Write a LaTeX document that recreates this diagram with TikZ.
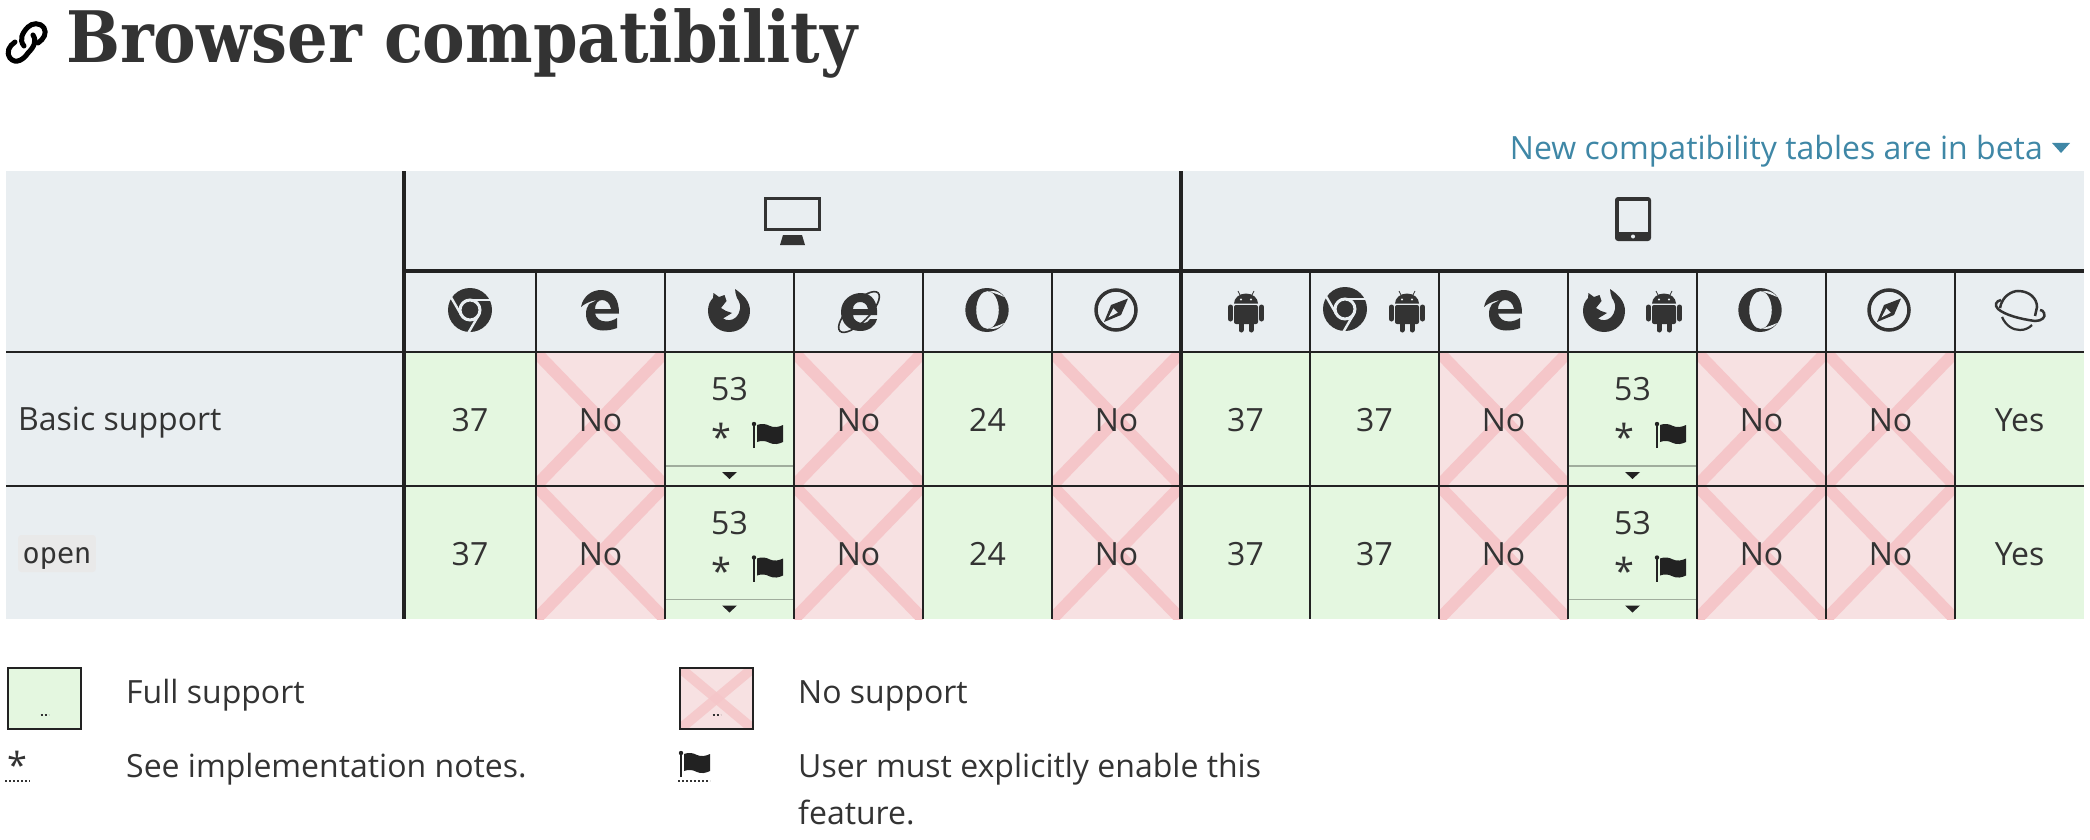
\documentclass[tikz,border=0pt]{standalone}
\usepackage{fontspec}
\setmainfont{Open Sans}
\setmonofont{DejaVu Sans Mono}
\newfontfamily\titlefont[FakeStretch=0.9]{DejaVu Serif}
\definecolor{ink}{HTML}{222222}
\definecolor{iconink}{HTML}{333333}
\definecolor{bodytext}{HTML}{333333}
\definecolor{headbg}{HTML}{E9EEF1}
\definecolor{yesfill}{HTML}{E4F7E0}
\definecolor{nofill}{HTML}{F7E1E2}
\definecolor{crossred}{HTML}{F5C6C9}
\definecolor{linkblue}{HTML}{3F87A6}
\definecolor{codebg}{HTML}{E9E9E9}
\tikzset{
  cell/.style={minimum width=129pt, minimum height=133.5pt, inner sep=0pt, outer sep=0pt, text=bodytext, text height=25.5pt, font=\fontsize{32}{38}\selectfont},
  headcell/.style={cell, fill=headbg, minimum height=81pt},
  yescell/.style={cell, fill=yesfill},
  nocell/.style={cell, fill=nofill, path picture={
    \draw[crossred, line width=12pt] (path picture bounding box.north west) -- (path picture bounding box.south east);
    \draw[crossred, line width=12pt] (path picture bounding box.north east) -- (path picture bounding box.south west);}},
  rowlabel/.style={text=bodytext, inner sep=0pt, font=\fontsize{32}{38}\selectfont},
  thickrule/.style={ink, line width=4pt},
  thinrule/.style={ink, line width=2.4pt},
  legbox/.style={draw=ink, line width=2.5pt, minimum width=73pt, minimum height=61pt, inner sep=0pt},
  dotrule/.style={bodytext, line width=2pt, dash pattern=on 2pt off 2pt}
}
\newcommand{\chromeicon}[1]{\begin{scope}[shift={(#1)}]
  \fill[iconink] (0,0) circle (22);
  \draw[headbg, line width=3pt] (0,0) circle (10);
  \draw[headbg, line width=2.4pt] (0,10) -- (22,10);
  \draw[headbg, line width=2.4pt] (8.7,-5) -- (-2.3,-24);
  \draw[headbg, line width=2.4pt] (-8.7,-5) -- (-19.7,14);
\end{scope}}
\newcommand{\edgeicon}[1]{\begin{scope}[shift={(#1)}]
  \fill[iconink, even odd rule] (-19,3) .. controls (-17,14) and (-8,20) .. (1,20) .. controls (13,20) and (19,11) .. (19,-3.5) -- (-5,-3.5) .. controls (-4,-8) and (0,-11.5) .. (6,-11.5) .. controls (10,-11.5) and (14,-10) .. (17,-8) -- (17,-18) .. controls (12,-20) and (7,-20.5) .. (3,-20.5) .. controls (-8,-20.5) and (-14,-13) .. (-14,-4) .. controls (-14,0) and (-13,3) .. (-11,6) -- (-3,10) .. controls (-10,9) and (-16,6) .. (-19,3) -- cycle
  (-5,1) -- (11,1) .. controls (10,7) and (6,10) .. (2,10) .. controls (-2,10) and (-5,6) .. (-5,1) -- cycle;
\end{scope}}
\newcommand{\foxicon}[1]{\begin{scope}[shift={(#1)}]
  \fill[iconink] (6,21) .. controls (15,15) and (21,8) .. (21,-1) .. controls (21,-13) and (12,-22) .. (0,-22) .. controls (-12,-22) and (-21,-12) .. (-21,-1) .. controls (-21,5) and (-19,9) .. (-16,12) -- (-15.5,17) -- (-10,13) -- (-4.5,15) -- (-2.5,9) -- (-8,2) -- (-3,-1) -- (3,-3) -- (-6,-8.5) .. controls (-2,-11) and (3,-10.5) .. (6,-8) .. controls (12,-3) and (13,5) .. (8,12) .. controls (7,15) and (6,18) .. (6,21) -- cycle;
\end{scope}}
\newcommand{\ieicon}[1]{\begin{scope}[shift={(#1)}]
  \fill[iconink, even odd rule] (-18,0) .. controls (-18,12) and (-8,19) .. (2,19) .. controls (13,19) and (19,10) .. (18,-3) -- (-6,-3) .. controls (-6,-8) and (-1,-11) .. (4,-11) .. controls (8,-11) and (10,-9) .. (11,-7) -- (18,-7) .. controls (16,-15) and (9,-19) .. (1,-19) .. controls (-10,-19) and (-18,-11) .. (-18,0) -- cycle
  (-6,3) -- (9,3) .. controls (8,8) and (5,10) .. (1,10) .. controls (-3,10) and (-6,7) .. (-6,3) -- cycle;
  \draw[iconink, line width=1.6pt, rotate=45] (0,0) ellipse (27 and 10);
\end{scope}}
\newcommand{\operaicon}[1]{\begin{scope}[shift={(#1)}]
  \fill[iconink, even odd rule] (0,0) ellipse (21.7 and 22) (0.5,0) ellipse (11.3 and 19);
  \fill[headbg] (2,18.5) .. controls (8,20) and (13,18) .. (17,13) .. controls (13,15) and (7,17) .. (2,18.5) -- cycle;
  \fill[headbg] (2,-18.5) .. controls (8,-20) and (13,-18) .. (17,-13) .. controls (13,-15) and (7,-17) .. (2,-18.5) -- cycle;
\end{scope}}
\newcommand{\safariicon}[1]{\begin{scope}[shift={(#1)}]
  \draw[iconink, line width=3.5pt] (0,0) circle (20);
  \fill[iconink] (12,11.5) -- (-5,5) -- (-12,-12) -- (5,-5) -- cycle;
  \fill[headbg] (-2.7,1.7) -- (1.7,-2.7) -- (-7.5,-7.5) -- cycle;
\end{scope}}
\newcommand{\androidicon}[1]{\begin{scope}[shift={(#1)}]
  \fill[iconink, rounded corners=2pt] (-12,7) rectangle (12,-12);
  \fill[iconink] (-12,8.5) arc (180:0:12 and 10) -- cycle;
  \fill[headbg] (-5,12.5) circle (1.1) (5,12.5) circle (1.1);
  \draw[iconink, line width=5pt, line cap=round] (-15.5,5) -- (-15.5,-7);
  \draw[iconink, line width=5pt, line cap=round] (15.5,5) -- (15.5,-7);
  \draw[iconink, line width=5pt, line cap=round] (-5,-12) -- (-5,-18);
  \draw[iconink, line width=5pt, line cap=round] (5,-12) -- (5,-18);
  \draw[iconink, line width=0.8pt] (-6,17) -- (-8,21);
  \draw[iconink, line width=0.8pt] (6,17) -- (8,21);
\end{scope}}
\newcommand{\planeticon}[1]{\begin{scope}[shift={(#1)}]
  \draw[iconink, line width=2.5pt] (-20,2) .. controls (-18,14) and (-8,19) .. (-2,19) .. controls (9,19) and (17,12) .. (17,3) -- (15,-6);
  \draw[iconink, line width=2.5pt] (-19,10) .. controls (-24,9) and (-26,5) .. (-22,1) .. controls (-15,-5) and (0,-9) .. (15,-11) .. controls (22,-11) and (26,-7) .. (24,-3) .. controls (23,-1) and (22,0) .. (20,0);
  \draw[iconink, line width=2.2pt] (-18,-7) .. controls (-14,-16) and (-7,-20) .. (0,-20) .. controls (5,-20) and (9,-18) .. (12,-15);
\end{scope}}
\newcommand{\flagicon}[1]{\begin{scope}[shift={(#1)}]
  \draw[ink, line width=2pt] (0,0) -- (0,24);
  \fill[ink] (0,24) circle (2.2);
  \fill[ink] (3,23) .. controls (8,25) and (12,24) .. (16,22) .. controls (20,20) and (25,21) .. (29,23) -- (29,6) .. controls (25,4) and (20,3) .. (16,5) .. controls (12,7) and (8,8) .. (3,6) -- cycle;
\end{scope}}
\newcommand{\flagbits}[1]{\begin{scope}[shift={(#1)}]
  \node[rowlabel] (#1num) at (0,29.5) {53};
  \node[rowlabel, font=\fontsize{36}{40}\selectfont] (#1star) at (-8.5,-18) {*};
  \flagicon{24.5,-29}
  \draw[black!30!yesfill, line width=1.6pt] (-64,-47) -- (64,-47);
  \fill[ink] (-7.5,-53) -- (7.5,-53) -- (0,-60) -- cycle;
\end{scope}}
\begin{document}
\begin{tikzpicture}[x=1pt, y=1pt, node distance=129pt]
\useasboundingbox (0,0) rectangle (2090,-840);

\node[inner sep=0pt, anchor=base west, text=bodytext, font=\titlefont\bfseries\fontsize{71}{75}\selectfont] (title) at (66,-63) {Browser compatibility};
\draw[black, line width=5pt, line cap=round] (24,-46) .. controls (19,-40) and (22,-33) .. (28,-27) .. controls (32,-23) and (40,-22) .. (44,-28) .. controls (47,-33) and (44,-39) .. (38,-43);
\draw[black, line width=5pt, line cap=round] (33,-35) .. controls (37,-41) and (34,-47) .. (28,-53) .. controls (24,-59) and (16,-65) .. (10,-58) .. controls (6,-52) and (9,-46) .. (15,-42);

\node[anchor=base east, inner sep=0pt, text=linkblue, font=\fontsize{32}{38}\selectfont] (beta) at (2043,-159) {New compatibility tables are in beta};
\fill[linkblue] (2052,-143) -- (2070,-143) -- (2061,-153) -- cycle;

\node[cell, fill=headbg, minimum width=398pt, minimum height=181pt] (corner) at (205,-261.5) {};
\node[cell, fill=headbg, minimum width=777pt, minimum height=100pt] (desk) at (792.5,-221) {};
\node[cell, fill=headbg, minimum width=903pt, minimum height=100pt] (mob) at (1632.5,-221) {};

\node[cell, fill=headbg, minimum width=398pt] (lb) at (205,-419) {};
\node[rowlabel, anchor=base west] (lbt) at (18,-430) {Basic support};
\node[cell, fill=headbg, minimum width=398pt] (lo) [below of=lb, node distance=133.5pt] {};
\node[rowlabel, anchor=base west, fill=codebg, rounded corners=3pt, inner xsep=4.5pt, inner ysep=0pt, text height=28pt, text depth=9pt, font=\ttfamily\fontsize{28.5}{34}\selectfont] (lot) at (18,-563) {open};

\node[headcell, minimum width=132pt] (h1) at (470,-311.5) {};
\node[headcell] (h2) [right of=h1, node distance=130.5pt] {};
\node[headcell] (h3) [right of=h2] {};
\node[headcell] (h4) [right of=h3] {};
\node[headcell] (h5) [right of=h4] {};
\node[headcell] (h6) [right of=h5] {};
\node[headcell] (h7) [right of=h6] {};
\node[headcell] (h8) [right of=h7] {};
\node[headcell] (h9) [right of=h8] {};
\node[headcell] (h10) [right of=h9] {};
\node[headcell] (h11) [right of=h10] {};
\node[headcell] (h12) [right of=h11] {};
\node[headcell] (h13) [right of=h12] {};

\node[yescell, minimum width=132pt] (b1) at (470,-419) {37};
\node[nocell] (b2) [right of=b1, node distance=130.5pt] {No};
\node[yescell] (b3) [right of=b2] {};
\node[nocell] (b4) [right of=b3] {No};
\node[yescell] (b5) [right of=b4] {24};
\node[nocell] (b6) [right of=b5] {No};
\node[yescell] (b7) [right of=b6] {37};
\node[yescell] (b8) [right of=b7] {37};
\node[nocell] (b9) [right of=b8] {No};
\node[yescell] (b10) [right of=b9] {};
\node[nocell] (b11) [right of=b10] {No};
\node[nocell] (b12) [right of=b11] {No};
\node[yescell] (b13) [right of=b12] {Yes};

\node[yescell, minimum width=132pt] (o1) at (470,-552.5) {37};
\node[nocell] (o2) [right of=o1, node distance=130.5pt] {No};
\node[yescell] (o3) [right of=o2] {};
\node[nocell] (o4) [right of=o3] {No};
\node[yescell] (o5) [right of=o4] {24};
\node[nocell] (o6) [right of=o5] {No};
\node[yescell] (o7) [right of=o6] {37};
\node[yescell] (o8) [right of=o7] {37};
\node[nocell] (o9) [right of=o8] {No};
\node[yescell] (o10) [right of=o9] {};
\node[nocell] (o11) [right of=o10] {No};
\node[nocell] (o12) [right of=o11] {No};
\node[yescell] (o13) [right of=o12] {Yes};

\flagbits{b3}
\flagbits{b10}
\flagbits{o3}
\flagbits{o10}

\draw[thinrule] (h2.north west) -- (o2.south west);
\draw[thinrule] (h3.north west) -- (o3.south west);
\draw[thinrule] (h4.north west) -- (o4.south west);
\draw[thinrule] (h5.north west) -- (o5.south west);
\draw[thinrule] (h6.north west) -- (o6.south west);
\draw[thinrule] (h8.north west) -- (o8.south west);
\draw[thinrule] (h9.north west) -- (o9.south west);
\draw[thinrule] (h10.north west) -- (o10.south west);
\draw[thinrule] (h11.north west) -- (o11.south west);
\draw[thinrule] (h12.north west) -- (o12.south west);
\draw[thinrule] (h13.north west) -- (o13.south west);
\draw[thinrule] (lb.north west) -- (b13.north east);
\draw[thinrule] (lo.north west) -- (o13.north east);
\draw[thickrule] (desk.north west) -- (o1.south west);
\draw[thickrule] (mob.north west) -- (o7.south west);
\draw[thickrule] (desk.south west) -- (mob.south east);

\draw[iconink, line width=3pt] (765.5,-198.5) rectangle (819.5,-229.5);
\fill[iconink] (783,-235) -- (802,-235) -- (805,-245) -- (780,-245) -- cycle;

\fill[iconink, rounded corners=3pt] (1615,-197) rectangle (1651,-241);
\fill[headbg] (1618.5,-201) rectangle (1647.5,-232);
\fill[headbg] (1633,-236.5) circle (2);

\chromeicon{470,-310}
\edgeicon{600,-310}
\foxicon{729,-310}
\ieicon{859,-312}
\operaicon{987,-310}
\safariicon{1116,-310}
\androidicon{1246,-312}
\chromeicon{1345,-309}
\androidicon{1407,-312}
\edgeicon{1503,-310}
\foxicon{1604,-310}
\androidicon{1664,-312}
\operaicon{1760,-310}
\safariicon{1889,-310}
\planeticon{2020,-310}

\node[legbox, fill=yesfill] (ly) at (44.5,-698.5) {};
\draw[dotrule] (ly.center) ++(-4,-16.5) -- ++(8,0);
\node[rowlabel, anchor=base west] (lyt) at (126,-703) {Full support};

\node[legbox, fill=nofill, path picture={
  \draw[crossred, line width=10pt, opacity=0.85] (path picture bounding box.north west) -- (path picture bounding box.south east);
  \draw[crossred, line width=10pt, opacity=0.85] (path picture bounding box.north east) -- (path picture bounding box.south west);}] (ln) at (716.5,-698.5) {};
\draw[dotrule] (ln.center) ++(-4,-16.5) -- ++(8,0);
\node[rowlabel, anchor=base west] (lnt) at (798,-703) {No support};

\node[rowlabel, font=\fontsize{36}{40}\selectfont] (ls) at (17,-765) {*};
\draw[dotrule] (5,-781) -- (30,-781);
\node[rowlabel, anchor=base west] (lst) at (126,-777) {See implementation notes.};

\flagicon{681,-777}
\draw[dotrule] (678,-781) -- (710,-781);
\node[rowlabel, anchor=base west] (luf) at (798,-777) {User must explicitly enable this};
\node[rowlabel, anchor=base west] (luf2) at (798,-824) {feature.};
\end{tikzpicture}
\end{document}
